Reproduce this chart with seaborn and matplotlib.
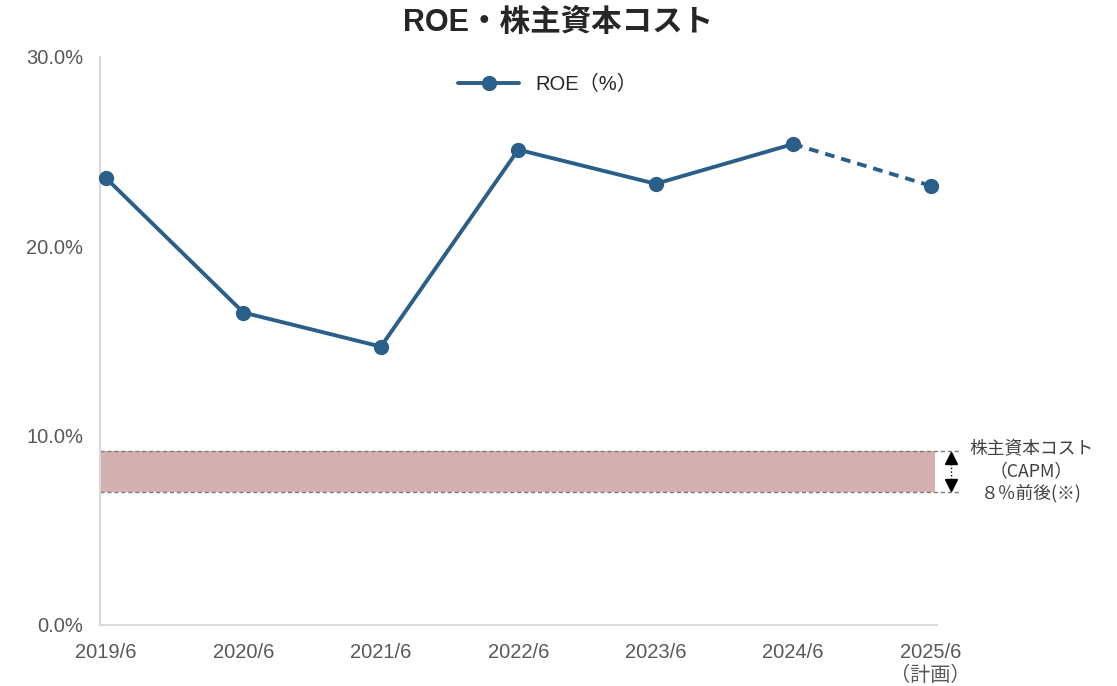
import numpy as np
import pandas as pd
import matplotlib
matplotlib.use("Agg")
import matplotlib.pyplot as plt
import seaborn as sns
from matplotlib.lines import Line2D

sns.set_style("white")
plt.rcParams['font.family'] = ['Liberation Sans', 'Noto Sans CJK JP', 'DejaVu Sans']

# ── Data ──────────────────────────────────────────────────────────────────────
periods = ['2019/6', '2020/6', '2021/6', '2022/6', '2023/6', '2024/6', '2025/6\n（計画）']
roe = [23.6, 16.5, 14.7, 25.1, 23.3, 25.4, 23.2]
capm_low, capm_high = 7.0, 9.2

LINE = '#2A5F8A'
BAND = '#D4B0B1'
GRAY = '#595959'

df = pd.DataFrame({'x': range(len(periods)), 'roe': roe})
actual = df.iloc[:6]
plan = df.iloc[5:]

fig = plt.figure(figsize=(11.17, 6.86), dpi=100)
ax = fig.add_axes([0.0895, 0.089, 0.749, 0.828])

# cost-of-equity band
ax.axhspan(capm_low, capm_high, xmin=0, xmax=0.998, color=BAND, lw=0, zorder=1)
for yv in (capm_low, capm_high):
    ax.plot([-0.044, 6.21], [yv, yv], color='#7A7A7A', ls=(0, (3, 2)), lw=1.0,
            clip_on=False, zorder=2)
ax.plot([6.15, 6.15], [capm_low + 0.3, capm_high - 0.3], color='black', ls=':',
        lw=1, clip_on=False)
ax.plot([6.15], [capm_high - 0.4], marker='^', color='black', ms=9, clip_on=False)
ax.plot([6.15], [capm_low + 0.4], marker='v', color='black', ms=9, clip_on=False)
ax.text(6.735, 8.1, '株主資本コスト\n（CAPM）\n８％前後(※)', ha='center', va='center',
        fontsize=12.8, color='#404040', linespacing=1.28,
        family=['Noto Sans CJK JP', 'DejaVu Sans'], clip_on=False)

# ROE line
sns.lineplot(data=actual, x='x', y='roe', ax=ax, color=LINE, lw=2.8,
             marker='o', markersize=11, markeredgewidth=0, zorder=3, clip_on=False)
sns.lineplot(data=plan, x='x', y='roe', ax=ax, color=LINE, lw=2.8,
             ls=(0, (2.5, 1.8)), zorder=3)
sns.scatterplot(data=plan.iloc[1:], x='x', y='roe', ax=ax, color=LINE, s=121,
                linewidth=0, zorder=4, clip_on=False)

ax.set_xlim(-0.044, 6.044)
ax.set_ylim(0, 30)
ax.set_yticks([0, 10, 20, 30])
ax.set_yticklabels([f'{v:.1f}%' for v in [0, 10, 20, 30]])
ax.set_xticks(range(len(periods)))
ax.set_xticklabels(periods, linespacing=1.25)
ax.tick_params(axis='both', length=0, labelsize=14.5, colors=GRAY)
ax.tick_params(axis='x', pad=13)
ax.tick_params(axis='y', pad=12)
ax.set_xlabel('')
ax.set_ylabel('')
for s in ['top', 'right']:
    ax.spines[s].set_visible(False)
for s in ['left', 'bottom']:
    ax.spines[s].set_color('#D9D9D9')
    ax.spines[s].set_linewidth(1.5)

handle = Line2D([0], [0], color=LINE, lw=2.8, marker='o', markersize=11,
                markeredgewidth=0)
ax.legend([handle], ['ROE（%）'], loc='center', bbox_to_anchor=(0.535, 0.952),
          frameon=False, handlelength=3,
          prop={'family': ['Liberation Sans', 'Noto Sans CJK JP'], 'size': 14.5})

fig.suptitle('ROE・株主資本コスト', x=0.5, y=0.988, fontsize=22, fontweight='bold',
             family=['Liberation Sans', 'Noto Sans CJK JP', 'DejaVu Sans'])

fig.savefig('out.png', dpi=100)
